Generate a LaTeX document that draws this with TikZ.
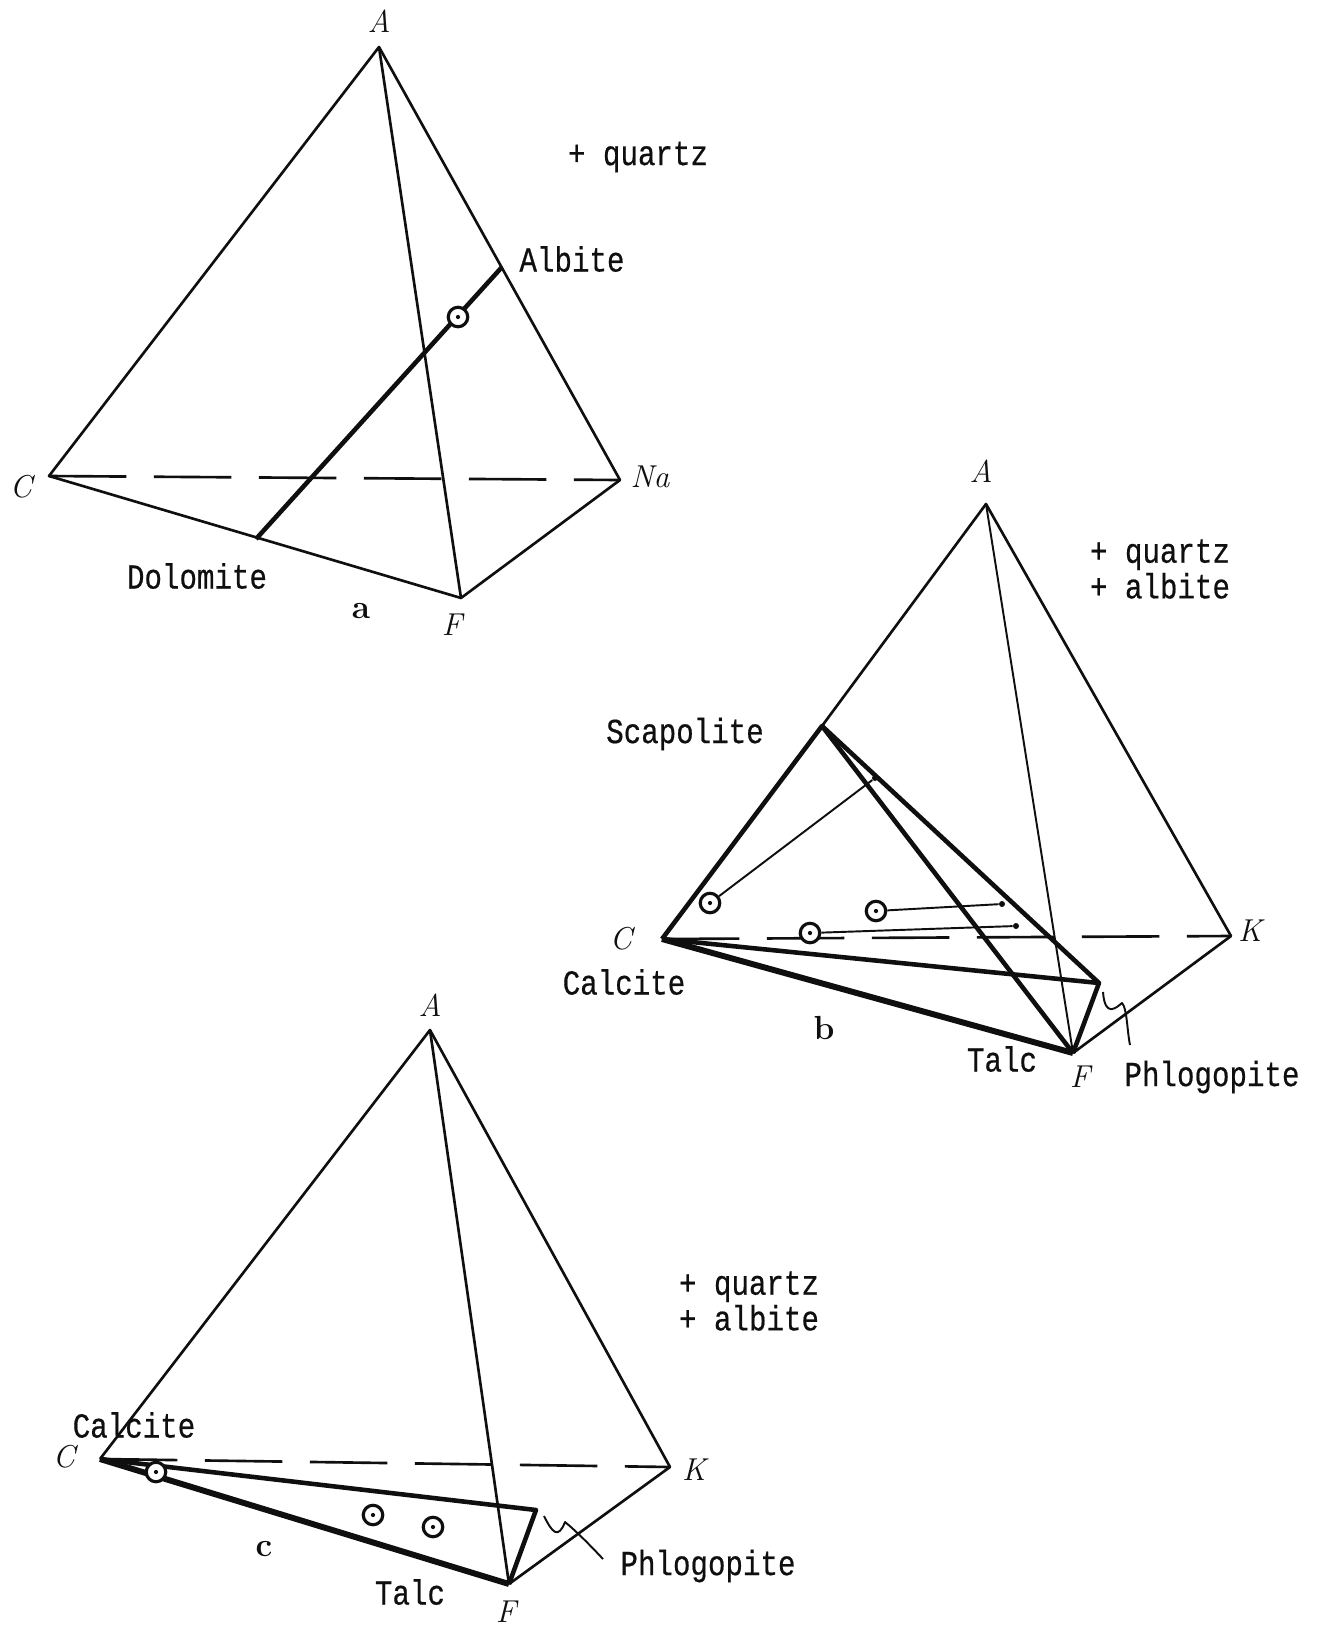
\documentclass[tikz,border=0pt]{standalone}
\usepackage{fontspec}
\setmonofont[FakeStretch=0.83,FakeBold=0.5]{Liberation Mono}
\usepackage{tikz}
\usetikzlibrary{positioning}
\definecolor{tinta}{RGB}{15, 15, 15}

\begin{document}
\begin{tikzpicture}[
		x=0.02cm, y=-0.02cm,
		line join=round,
		arista/.style = {draw=tinta, line width=1.5pt},
		gruesa/.style = {draw=tinta, line width=2.6pt},
		masgruesa/.style = {draw=tinta, line width=3.4pt},
		oculta/.style = {draw=tinta, line width=1.5pt, dash pattern=on 1.55cm off 0.55cm},
		fina/.style = {draw=tinta, line width=1.1pt},
		anillo/.style = {
			circle, draw=tinta, line width=1.8pt, fill=white, minimum size=0.39cm, inner sep=0pt,
			path picture={\fill[tinta] (path picture bounding box.center) circle (1.2pt);}
		},
		remate/.style = {circle, fill=tinta, minimum size=0.12cm, inner sep=0pt},
		vertice/.style = {font=\fontsize{18}{18}\selectfont\itshape, text=tinta, inner sep=0pt},
		mineral/.style = {font=\fontsize{20}{20.3}\selectfont\ttfamily, text=tinta, inner sep=0pt, align=left},
		letra/.style = {font=\fontsize{19}{19}\selectfont\bfseries, text=tinta, inner sep=0pt}
	]
	\useasboundingbox[fill=white] (0,0) rectangle (1317,1627);
	
	% Diagrama a - Arriba
	\coordinate (aA) at (379,47);
	\coordinate (aC) at (49,476);
	\coordinate (aNa) at (620,480);
	\coordinate (aF) at (461,598);
	\coordinate (aAlbite) at (502,267);
	\coordinate (aDolomite) at (256,539);
	\draw[oculta] (aC) -- (aNa);
	\draw[arista] (aC) -- (aA) -- (aNa) -- (aF) -- cycle;
	\draw[arista] (aA) -- (aF);
	\draw[gruesa] (aDolomite) -- (aAlbite);
	\node[anillo] (aPunto) at (458,317) {};
	\node[vertice] (aEtiqA) at (379,21) {A};
	\node[vertice] (aEtiqC) at (21,487) {C};
	\node[vertice] (aEtiqNa) at (650,477) {Na};
	\node[vertice] (aEtiqF) at (452,625) {F};
	\node[mineral] (aQuartz) at (638,157) {+ quartz};
	\node[mineral] (aEtiqAlbite) at (572,259) {Albite};
	\node[mineral] (aEtiqDolomite) at (197,576) {Dolomite};
	\node[letra] (aLetra) at (361,611) {a};
	
	% Diagrama b - Derecha
	\coordinate (bA) at (986,504);
	\coordinate (bC) at (662,939);
	\coordinate (bK) at (1231,936);
	\coordinate (bF) at (1073,1053);
	\coordinate (bScapolite) at (822,726);
	\coordinate (bPhlogopite) at (1099,983);
	\draw[oculta] (bC) -- (bK);
	\draw[arista] (bScapolite) -- (bA) -- (bK) -- (bF);
	\draw[fina] (bA) -- (bF);
	\draw[gruesa] (bC) -- (bScapolite) -- (bPhlogopite);
	\draw[gruesa] (bScapolite) -- (bF);
	\draw[gruesa] (bC) -- (bPhlogopite) -- (bF);
	\draw[masgruesa] (bC) -- (bF);
	\node[anillo] (bPunto1) at (710,903) {};
	\node[anillo] (bPunto2) at (876,911) {};
	\node[anillo] (bPunto3) at (810,933) {};
	\node[remate] (bFin1) at (875,778) {};
	\node[remate] (bFin2) at (1002,904) {};
	\node[remate] (bFin3) at (1016,926) {};
	\draw[fina] (bPunto1) -- (bFin1);
	\draw[fina] (bPunto2) -- (bFin2);
	\draw[fina] (bPunto3) -- (bFin3);
	\coordinate (bCurva1) at (1103,992);
	\coordinate (bCurva2) at (1130,1045);
	\draw[fina] (bCurva1) .. controls (1105,1018) and (1116,1008) .. (1122,1003) .. controls (1127,1008) and (1127,1030) .. (bCurva2);
	\node[vertice] (bEtiqA) at (981,471) {A};
	\node[vertice] (bEtiqC) at (621,939) {C};
	\node[vertice] (bEtiqK) at (1250,931) {K};
	\node[vertice] (bEtiqF) at (1080,1077) {F};
	\node[mineral] (bQuartz) at (1160,569) {+ quartz\\+ albite};
	\node[mineral] (bEtiqScapolite) at (685,734) {Scapolite};
	\node[mineral] (bEtiqCalcite) at (624,982) {Calcite};
	\node[mineral] (bEtiqTalc) at (1002,1059) {Talc};
	\node[mineral] (bEtiqPhlogopite) at (1212,1077) {Phlogopite};
	\node[letra] (bLetra) at (824,1028) {b};
	
	% Diagrama c - Abajo
	\coordinate (cA) at (430,1030);
	\coordinate (cC) at (100,1459);
	\coordinate (cK) at (670,1467);
	\coordinate (cF) at (509,1584);
	\coordinate (cPhlogopite) at (536,1510);
	\draw[oculta] (cC) -- (cK);
	\draw[arista] (cC) -- (cA) -- (cK) -- (cF);
	\draw[arista] (cA) -- (cF);
	\draw[gruesa] (cC) -- (cPhlogopite) -- (cF);
	\draw[masgruesa] (cC) -- (cF);
	\node[anillo] (cPunto1) at (156,1472) {};
	\node[anillo] (cPunto2) at (373,1515) {};
	\node[anillo] (cPunto3) at (433,1527) {};
	\coordinate (cCurva1) at (544,1516);
	\coordinate (cCurva2) at (603,1559);
	\draw[fina] (cCurva1) .. controls (552,1532) and (558,1540) .. (565,1522) .. controls (575,1530) and (590,1545) .. (cCurva2);
	\node[vertice] (cEtiqA) at (430,1005) {A};
	\node[vertice] (cEtiqC) at (64,1457) {C};
	\node[vertice] (cEtiqK) at (694,1470) {K};
	\node[vertice] (cEtiqF) at (506,1612) {F};
	\node[mineral] (cQuartz) at (749,1301) {+ quartz\\+ albite};
	\node[mineral] (cEtiqCalcite) at (134,1425) {Calcite};
	\node[mineral] (cEtiqTalc) at (410,1592) {Talc};
	\node[mineral] (cEtiqPhlogopite) at (708,1566) {Phlogopite};
	\node[letra] (cLetra) at (264,1549) {c};
	
\end{tikzpicture}
\end{document}
